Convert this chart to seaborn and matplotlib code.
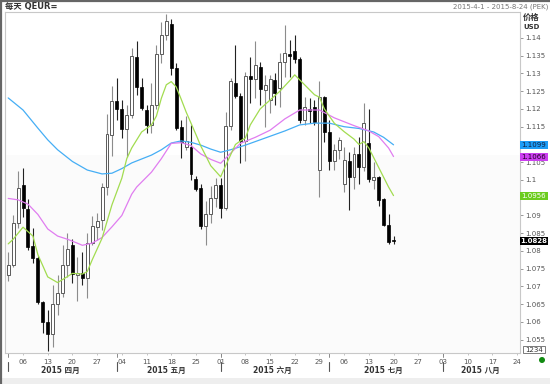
import matplotlib
matplotlib.use("Agg")
import matplotlib.pyplot as plt
import seaborn as sns
import pandas as pd
import numpy as np
from matplotlib.patches import Rectangle, Ellipse
from matplotlib.lines import Line2D

# ---------------- data ----------------
title_left = "每天 QEUR="
title_right = "2015-4-1 - 2015-8-24 (PEK)"
unit_lines = ["价格", "USD"]
axis_start, axis_end = "2015-04-01", "2015-08-24"
candle_start, candle_end = "2015-04-01", "2015-07-20"

opens = [1.0732, 1.0761, 1.0880, 1.0985, 1.0917, 1.0814, 1.0779, 1.0657, 1.0599, 1.0566,
         1.0651, 1.0681, 1.0761, 1.0817, 1.0733, 1.0737, 1.0723, 1.0823, 1.0868, 1.0887,
         1.0981, 1.1127, 1.1221, 1.1199, 1.1143, 1.1183, 1.1345, 1.1261, 1.1197, 1.1155,
         1.1211, 1.1355, 1.1408, 1.1439, 1.1315, 1.1148, 1.1092, 1.1094, 1.1002, 1.0976,
         1.0870, 1.0904, 1.0948, 1.0986, 1.0920, 1.1152, 1.1274, 1.1237, 1.1111, 1.1293,
         1.1284, 1.1319, 1.1254, 1.1225, 1.1282, 1.1258, 1.1331, 1.1355, 1.1362, 1.1340,
         1.1169, 1.1200, 1.1206, 1.1028, 1.1233, 1.1136, 1.1052, 1.1083, 1.0989, 1.1054,
         1.1009, 1.1073, 1.1036, 1.1105, 1.1000, 1.1008, 1.0946, 1.0873, 1.0831]
highs = [1.0798, 1.0901, 1.1026, 1.1033, 1.0946, 1.0864, 1.0785, 1.0660, 1.0634, 1.0704,
         1.0732, 1.0817, 1.0850, 1.0833, 1.0784, 1.0798, 1.0850, 1.0899, 1.0906, 1.0992,
         1.1185, 1.1265, 1.1287, 1.1225, 1.1211, 1.1371, 1.1390, 1.1287, 1.1211, 1.1274,
         1.1380, 1.1446, 1.1468, 1.1453, 1.1329, 1.1169, 1.1180, 1.1155, 1.1010, 1.0990,
         1.0942, 1.0983, 1.1005, 1.1005, 1.1192, 1.1287, 1.1380, 1.1245, 1.1305, 1.1345,
         1.1390, 1.1333, 1.1296, 1.1296, 1.1300, 1.1357, 1.1437, 1.1394, 1.1408, 1.1345,
         1.1233, 1.1230, 1.1225, 1.1280, 1.1236, 1.1169, 1.1100, 1.1120, 1.1094, 1.1080,
         1.1094, 1.1120, 1.1216, 1.1200, 1.1050, 1.1010, 1.0950, 1.0904, 1.0842]
lows = [1.0716, 1.0754, 1.0864, 1.0897, 1.0803, 1.0765, 1.0650, 1.0568, 1.0518, 1.0530,
        1.0620, 1.0671, 1.0728, 1.0709, 1.0660, 1.0704, 1.0667, 1.0817, 1.0831, 1.0859,
        1.0958, 1.1068, 1.1169, 1.1117, 1.1066, 1.1174, 1.1239, 1.1197, 1.1131, 1.1131,
        1.1200, 1.1329, 1.1395, 1.1296, 1.1140, 1.1061, 1.1085, 1.1000, 1.0970, 1.0861,
        1.0817, 1.0878, 1.0925, 1.0892, 1.0914, 1.1141, 1.1230, 1.1047, 1.1052, 1.1216,
        1.1230, 1.1211, 1.1150, 1.1188, 1.1211, 1.1206, 1.1291, 1.1291, 1.1330, 1.1160,
        1.1155, 1.1160, 1.1155, 1.0953, 1.1108, 1.1028, 1.1028, 1.1060, 1.0967, 1.0915,
        1.0975, 1.0990, 1.1025, 1.0995, 1.0975, 1.0926, 1.0870, 1.0820, 1.0819]
closes = [1.0761, 1.0880, 1.0977, 1.0920, 1.0810, 1.0779, 1.0657, 1.0601, 1.0566, 1.0651,
          1.0683, 1.0761, 1.0805, 1.0735, 1.0737, 1.0723, 1.0823, 1.0870, 1.0885, 1.0979,
          1.1130, 1.1223, 1.1199, 1.1143, 1.1183, 1.1349, 1.1261, 1.1202, 1.1155, 1.1211,
          1.1355, 1.1408, 1.1449, 1.1315, 1.1146, 1.1108, 1.1111, 1.1017, 1.0974, 1.0870,
          1.0904, 1.0948, 1.0986, 1.0920, 1.1152, 1.1280, 1.1237, 1.1111, 1.1293, 1.1284,
          1.1324, 1.1255, 1.1268, 1.1284, 1.1244, 1.1333, 1.1357, 1.1349, 1.1340, 1.1169,
          1.1206, 1.1193, 1.1164, 1.1233, 1.1136, 1.1052, 1.1083, 1.1113, 1.1056, 1.1009,
          1.1073, 1.1036, 1.1161, 1.1002, 1.1008, 1.0944, 1.0873, 1.0826, 1.0828]

green_dates = ["04-01", "04-02", "04-06", "04-08", "04-09", "04-13", "04-15", "04-17", "04-20",
               "04-22", "04-23", "04-24", "04-28", "04-30", "05-04", "05-05", "05-06", "05-08",
               "05-12", "05-13", "05-14", "05-15", "05-18", "05-19", "05-20", "05-21", "05-22",
               "05-25", "05-26", "05-27", "05-28", "06-01", "06-02", "06-04", "06-05", "06-08",
               "06-09", "06-11", "06-15", "06-17", "06-19", "06-22", "06-24", "06-26", "06-29",
               "06-30", "07-02", "07-06", "07-08", "07-09", "07-10", "07-13", "07-15", "07-17",
               "07-20"]
green_vals = [1.0820, 1.0833, 1.0867, 1.0842, 1.0790, 1.0727, 1.0711, 1.0728, 1.0737,
              1.0735, 1.0742, 1.0775, 1.0836, 1.0930, 1.1005, 1.1060, 1.1090, 1.1135,
              1.1155, 1.1180, 1.1230, 1.1268, 1.1277, 1.1262, 1.1228, 1.1192, 1.1160,
              1.1128, 1.1095, 1.1068, 1.1040, 1.1009, 1.1040, 1.1100, 1.1110, 1.1118,
              1.1155, 1.1200, 1.1225, 1.1250, 1.1280, 1.1296, 1.1268, 1.1240, 1.1233,
              1.1200, 1.1160, 1.1136, 1.1115, 1.1100, 1.1108, 1.1090, 1.1035, 1.0980,
              1.0956]
magenta_dates = ["04-01", "04-03", "04-07", "04-09", "04-13", "04-15", "04-17", "04-21", "04-22",
                 "04-24", "04-28", "04-30", "05-04", "05-06", "05-07", "05-12", "05-14", "05-18",
                 "05-20", "05-22", "05-26", "05-28", "06-01", "06-03", "06-05", "06-10", "06-15",
                 "06-18", "06-23", "06-29", "07-02", "07-08", "07-13", "07-15", "07-17", "07-20"]
magenta_vals = [1.0948, 1.0944, 1.0932, 1.0903, 1.0862, 1.0842, 1.0833, 1.0822, 1.0816,
                1.0822, 1.0838, 1.0868, 1.0900, 1.0960, 1.0980, 1.1022, 1.1060, 1.1103,
                1.1105, 1.1097, 1.1073, 1.1058, 1.1047, 1.1075, 1.1103, 1.1120, 1.1140,
                1.1172, 1.1197, 1.1197, 1.1175, 1.1153, 1.1138, 1.1122, 1.1090, 1.1066]
blue_dates = ["04-01", "04-06", "04-09", "04-13", "04-15", "04-20", "04-23", "04-28", "04-30",
              "05-04", "05-06", "05-12", "05-14", "05-18", "05-20", "05-22", "05-26", "05-28",
              "06-01", "06-03", "06-08", "06-10", "06-15", "06-18", "06-23", "06-26", "07-01",
              "07-06", "07-09", "07-14", "07-16", "07-20"]
blue_vals = [1.1231, 1.1197, 1.1146, 1.1113, 1.1085, 1.1052, 1.1028, 1.1017, 1.1019,
             1.1032, 1.1048, 1.1070, 1.1085, 1.1104, 1.1110, 1.1106, 1.1098, 1.1087,
             1.1078, 1.1085, 1.1098, 1.1108, 1.1123, 1.1138, 1.1155, 1.1160, 1.1160,
             1.1150, 1.1145, 1.1135, 1.1120, 1.1099]

# tick values; labels covered by the value boxes in the reference are left blank
price_ticks = [1.055, 1.06, 1.065, 1.07, 1.075, 1.08, 1.085, 1.09, 1.095,
               1.1, 1.105, 1.11, 1.115, 1.12, 1.125, 1.13, 1.135, 1.14]
price_labels = ["1.055", "1.06", "1.065", "1.07", "1.075", "1.08", "1.085", "1.09", "",
                "1.1", "1.105", "", "1.115", "1.12", "1.125", "1.13", "1.135", "1.14"]
week_labels = ["06", "13", "20", "27", "04", "11", "18", "25", "01", "08", "15", "22", "29",
               "06", "13", "20", "27", "03", "10", "17", "24"]
month_labels = ["2015 四月", "2015 五月", "2015 六月", "2015 七月", "2015 八月"]

# ---------------- style ----------------
sns.set_theme(style="white")
plt.rcParams['font.family'] = ['DejaVu Sans', 'Noto Sans CJK SC']

C_BLUE, C_MAG, C_GRN = "#45aef5", "#e07df0", "#a2dc50"
BOX_BLUE, BOX_MAG, BOX_GRN = "#1c9cf6", "#cc3ff0", "#6ccc1e"

cal = pd.bdate_range(axis_start, axis_end)
pos = {d.strftime("%m-%d"): i for i, d in enumerate(cal)}
cdays = pd.bdate_range(candle_start, candle_end)
xs = np.array([pos[d.strftime("%m-%d")] for d in cdays])

W, H = 550, 384
fig = plt.figure(figsize=(W / 100, H / 100), dpi=100)
fig.patch.set_facecolor("white")
L, R, T, B = 5, 520, 12, 353
ax = fig.add_axes([L / W, 1 - B / H, (R - L) / W, (B - T) / H])
ymin, ymax = 1.05127, 1.1473
ax.set_xlim(-0.65, 103.6)
ax.set_ylim(ymin, ymax)
ax.set_facecolor("white")
ax.axhspan(ymin, 1.1070, color="#fbfbfb", lw=0, zorder=0)

df = pd.DataFrame(dict(x=xs, o=opens, h=highs, l=lows, c=closes))
df["up"] = df.c >= df.o
df["bot"] = np.minimum(df.o, df.c)
df["ht"] = np.maximum((df.c - df.o).abs(), 0.00010)
u, d = df[df.up], df[~df.up]
ax.vlines(u.x, u.l, u.h, color="#8c8c8c", lw=0.8, zorder=2)
ax.vlines(d.x, d.l, d.h, color="#222222", lw=0.8, zorder=2)
ax.bar(u.x, u.ht, bottom=u.bot, width=0.6, facecolor="white", edgecolor="#5a5a5a", lw=0.7, zorder=3)
ax.bar(d.x, d.ht, bottom=d.bot, width=0.6, facecolor="black", edgecolor="black", lw=0.5, zorder=3)

for dates, vals, col in [(blue_dates, blue_vals, C_BLUE), (magenta_dates, magenta_vals, C_MAG),
                         (green_dates, green_vals, C_GRN)]:
    sns.lineplot(x=[pos[k] for k in dates], y=vals, ax=ax, color=col, lw=0.9,
                 estimator=None, sort=False, zorder=4)
ax.set_xlabel("")
ax.set_ylabel("")

for s in ax.spines.values():
    s.set_color("#c8c8c8")
    s.set_linewidth(0.8)

# y axis on right
ax.yaxis.tick_right()
ax.set_yticks(price_ticks)
ax.set_yticklabels(price_labels)
ax.tick_params(axis="y", right=True, left=False, direction="out", length=2.5, width=0.6,
               color="#888888", labelsize=5, labelcolor="#555555", pad=1)

# x axis: Mondays
mondays = [i for i, dd in enumerate(cal) if dd.weekday() == 0]
ax.set_xticks(mondays)
ax.set_xticklabels(week_labels)
ax.tick_params(axis="x", bottom=True, direction="out", length=1.5, width=0.5, color="#aaaaaa",
               labelsize=5, labelcolor="#555555", pad=3)

trans = ax.get_xaxis_transform()
months = pd.Series(range(len(cal)), index=cal).groupby(cal.month)
xmax = ax.get_xlim()[1]
for (m, grp), lab in zip(months, month_labels):
    first = grp.iloc[0]
    ax.plot([first, first], [0, -3.5 / (B - T)], transform=trans, color="#777777", lw=0.6, clip_on=False)
    ax.plot([first, first], [-9 / (B - T), -18 / (B - T)], transform=trans, color="#555555", lw=0.8,
            clip_on=False)
    last = min(grp.iloc[-1], xmax)
    ax.text((first + last) / 2, -17.5 / (B - T), lab, transform=trans, ha="center", va="center",
            fontsize=5.5, fontweight="bold", color="#333333")

# value boxes on right axis
ytr = ax.get_yaxis_transform()
bw = 28 / (R - L)
bh = 8 / (B - T) * (ymax - ymin)
for v, fc, tc in [(blue_vals[-1], BOX_BLUE, "#102040"), (magenta_vals[-1], BOX_MAG, "#200020"),
                  (green_vals[-1], BOX_GRN, "white"), (closes[-1], "black", "white")]:
    ax.add_patch(Rectangle((1.0, v - bh / 2), bw, bh, transform=ytr, clip_on=False,
                           facecolor=fc, edgecolor="none", zorder=5))
    ax.text(1.0 + bw / 2, v, f"{v:.4f}", transform=ytr, ha="center", va="center",
            fontsize=5, color=tc, zorder=6, clip_on=False,
            fontweight="bold" if fc == "black" else "normal")

# header and frame
fig.text(5 / W, 1 - 7 / H, title_left, fontsize=6, fontweight="bold", color="#333333", va="center")
fig.text(548 / W, 1 - 7 / H, title_right, fontsize=5, color="#777777", va="center", ha="right")
fig.text(523 / W, 1 - 17.5 / H, unit_lines[0], fontsize=6, fontweight="bold", color="#333333", va="center")
fig.text(523 / W, 1 - 27 / H, unit_lines[1], fontsize=5, fontweight="bold", color="#333333", va="center")

fig.add_artist(Rectangle((0, 0), 1, 6 / H, transform=fig.transFigure, facecolor="#eeeeee",
                         edgecolor="none"))
fig.add_artist(Line2D([0, 1], [1 - 0.8 / H] * 2, transform=fig.transFigure, color="#666666", lw=1.6))
fig.add_artist(Line2D([1.2 / W] * 2, [0, 1], transform=fig.transFigure, color="#666666", lw=1.6))
fig.add_artist(Rectangle((523 / W, 1 - 353 / H), 22 / W, 7 / H, transform=fig.transFigure,
                         facecolor="white", edgecolor="#666666", lw=0.6))
fig.text(534 / W, 1 - 349.5 / H, "1234", fontsize=5, color="#333333", ha="center", va="center")
fig.add_artist(Ellipse((542 / W, 1 - 360 / H), 6 / W, 6 / H, transform=fig.transFigure,
                       facecolor="#118a11", edgecolor="none"))

fig.savefig("out.png", dpi=100)
